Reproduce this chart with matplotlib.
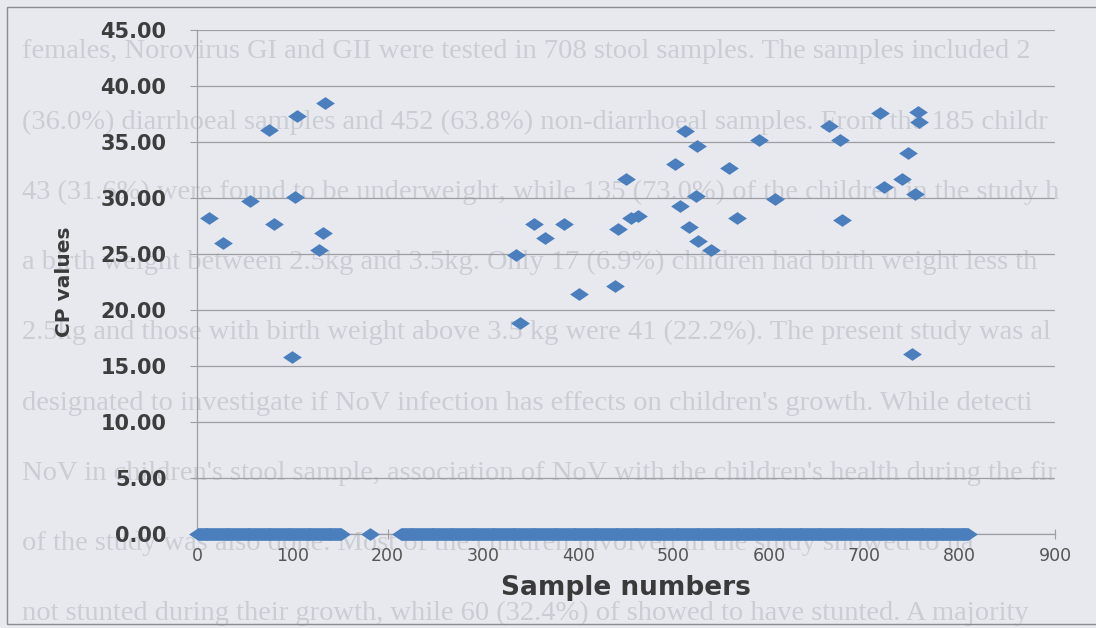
import matplotlib
matplotlib.use('Agg')
import matplotlib.pyplot as plt
from matplotlib.path import Path
from matplotlib.patches import Rectangle
import numpy as np

# positive samples (sample number, CP value)
pos_x = [134, 105, 75, 103, 56, 13, 81, 132, 27, 128, 100,
         512, 589, 524, 501, 558, 450, 523, 606, 507, 463, 455,
         353, 385, 566, 516, 442, 365, 525, 539, 335, 401, 438, 339,
         716, 756, 757, 663, 674, 746, 739, 721, 753, 677, 750]
pos_cp = [38.5, 37.3, 36.1, 30.1, 29.7, 28.2, 27.7, 26.9, 26.0, 25.4, 15.8,
          36.0, 35.2, 34.6, 33.0, 32.7, 31.7, 30.2, 29.9, 29.3, 28.4, 28.2,
          27.7, 27.7, 28.2, 27.4, 27.2, 26.4, 26.2, 25.4, 24.9, 21.4, 22.1, 18.8,
          37.6, 37.7, 36.8, 36.4, 35.2, 34.0, 31.7, 31.0, 30.4, 28.0, 16.1]

# negative samples plotted at 0 (runs of sample numbers)
zero_ranges = [(1, 151), (181, 181), (214, 809)]

y_ticks = [0, 5, 10, 15, 20, 25, 30, 35, 40, 45]
x_ticks = [0, 100, 200, 300, 400, 500, 600, 700, 800, 900]

# faint text showing through the scanned page (cut where the page edge cuts it)
ghost_lines = [
    "females, Norovirus GI and GII were tested in 708 stool samples. The samples included 2",
    "(36.0%) diarrhoeal samples and 452 (63.8%) non-diarrhoeal samples. From the 185 childr",
    "43 (31.6%) were found to be underweight, while 135 (73.0%) of the children in the study h",
    "a birth weight between 2.5kg and 3.5kg. Only 17 (6.9%) children had birth weight less th",
    "2.5kg and those with birth weight above 3.5 kg were 41 (22.2%). The present study was al",
    "designated to investigate if NoV infection has effects on children's growth. While detecti",
    "NoV in children's stool sample, association of NoV with the children's health during the fir",
    "of the study was also done. Most of the children involved in the study showed to ha",
    "not stunted during their growth, while 60 (32.4%) of showed to have stunted. A majority",
]

zero_x = np.concatenate([np.arange(a, b + 1) for a, b in zero_ranges])

bg = '#e7e9ef'
blue = '#4a7ebd'
grid = '#9c9ea2'

fig = plt.figure(figsize=(10.96, 6.28), dpi=100, facecolor=bg)
ax = fig.add_axes([197 / 1096, 1 - 534 / 628, (1055 - 197) / 1096, (534 - 30) / 628])
ax.set_facecolor('none')

for i, line in enumerate(ghost_lines):
    fig.text(22 / 1096, 1 - (52 + 70.2 * i) / 628, line, family='Liberation Serif',
             fontsize=20.5, color='#cacdd4', va='center', ha='left', zorder=-1)

# outer chart frame
fig.patches.append(Rectangle((7 / 1096, 1 - 624 / 628), 1.2, 617 / 628,
                             transform=fig.transFigure, fill=False,
                             edgecolor='#8a8c90', linewidth=1.0, zorder=-0.5))

diamond = Path([(-1, 0), (0, 0.68), (1, 0), (0, -0.68), (-1, 0)],
               [Path.MOVETO, Path.LINETO, Path.LINETO, Path.LINETO, Path.CLOSEPOLY])

ax.plot(zero_x, np.zeros(len(zero_x)), linestyle='none', marker=diamond,
        markersize=13.5, color=blue, markeredgewidth=0, clip_on=False, zorder=5)
ax.plot(pos_x, pos_cp, linestyle='none', marker=diamond,
        markersize=13.5, color=blue, markeredgewidth=0, clip_on=False, zorder=5)

ax.set_xlim(0, 900)
ax.set_ylim(0, 45)
ax.set_yticks(y_ticks)
ax.set_yticklabels(['%.2f' % v for v in y_ticks])
ax.set_xticks(x_ticks)

ax.yaxis.grid(True, color=grid, linewidth=0.9)
ax.set_axisbelow(True)
for s in ['top', 'right']:
    ax.spines[s].set_visible(False)
ax.spines['left'].set_color(grid)
ax.spines['bottom'].set_color(grid)
ax.spines['left'].set_linewidth(0.9)
ax.spines['bottom'].set_linewidth(0.9)

ax.tick_params(axis='y', length=5, color=grid, pad=17, labelsize=15, labelcolor='#3d3d3d')
for t in ax.get_yticklabels():
    t.set_fontweight('bold')
ax.tick_params(axis='x', direction='inout', length=7, color=grid, pad=6,
               labelsize=12.5, labelcolor='#555555')

ax.set_xlabel('Sample numbers', fontsize=19, fontweight='bold', color='#3a3a3a', labelpad=7)
ax.set_ylabel('CP values', fontsize=14.5, fontweight='bold', color='#3a3a3a')
ax.yaxis.set_label_coords(-0.143, 0.5)

plt.savefig('out.png', dpi=100, facecolor=bg)
